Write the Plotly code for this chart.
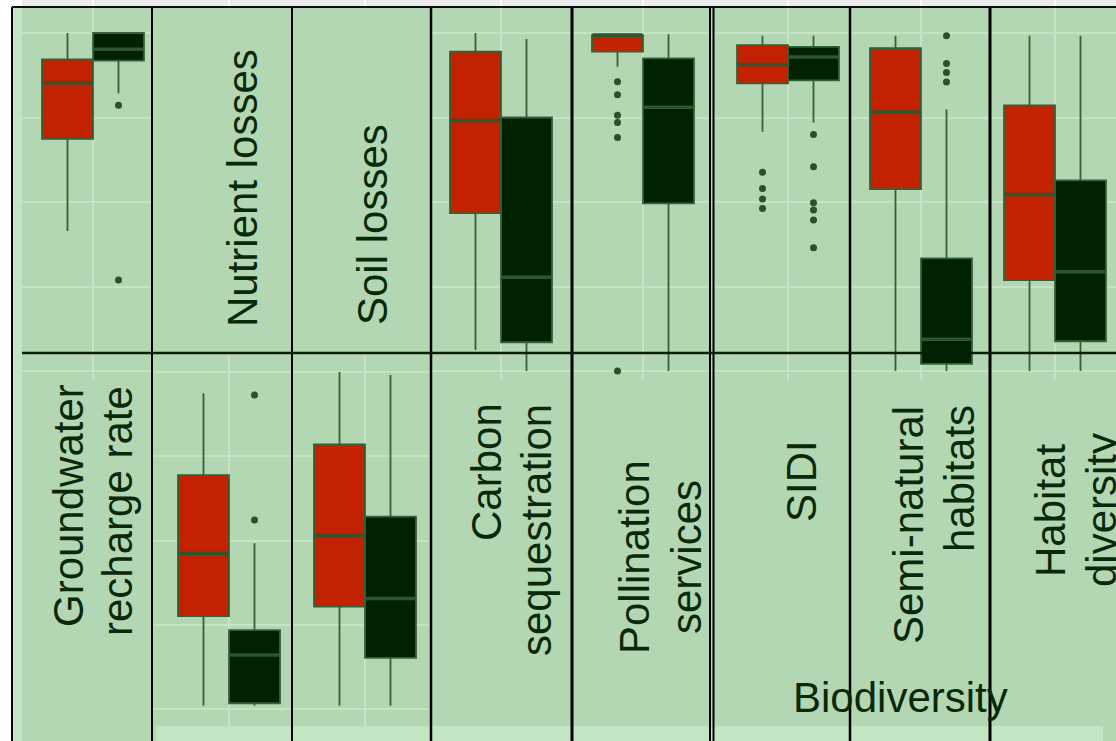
import plotly.graph_objects as go

W, H = 1116, 741

# ---------------- data (normalised values) ----------------
categories = ["Groundwater recharge rate", "Nutrient losses", "Soil losses",
              "Carbon sequestration", "Pollination services", "SIDI",
              "Semi-natural habitats", "Habitat diversity"]
groups = ["A", "B"]

red_low = [0.414, 0.010, 0.010, 0.062, 0.900, 0.708, 0.000, 0.000]
red_q1 = [0.687, 0.276, 0.304, 0.467, 0.945, 0.851, 0.538, 0.269]
red_med = [0.853, 0.462, 0.516, 0.741, 0.994, 0.907, 0.766, 0.522]
red_q3 = [0.922, 0.694, 0.785, 0.945, 0.994, 0.964, 0.955, 0.786]
red_high = [1.000, 0.937, 1.000, 1.000, 0.994, 0.992, 0.992, 0.992]
red_out = [[], [], [], [], [0.856, 0.817, 0.757, 0.735, 0.691, 0.0],
           [0.588, 0.540, 0.509, 0.481], [], []]

dark_low = [0.822, 0.010, 0.010, 0.000, 0.000, 0.735, 0.000, 0.000]
dark_q1 = [0.918, 0.017, 0.152, 0.085, 0.496, 0.860, 0.021, 0.088]
dark_med = [0.952, 0.160, 0.328, 0.277, 0.780, 0.929, 0.094, 0.294]
dark_q3 = [1.000, 0.234, 0.571, 0.750, 0.925, 0.959, 0.333, 0.564]
dark_high = [1.000, 0.492, 0.991, 0.982, 0.996, 0.992, 0.774, 0.992]
dark_out = [[0.786, 0.269], [0.932, 0.561], [], [], [],
            [0.700, 0.604, 0.498, 0.476, 0.447, 0.365],
            [0.992, 0.910, 0.883, 0.855], []]

y_ticks = [0, 0.25, 0.5, 0.75, 1.0]
group_mid = [0.5]

# ---------------- layout geometry (pixels) ----------------
box_row = ["top", "bottom", "bottom", "top", "top", "top", "top", "top"]
col_left = [22, 152, 292, 431, 572, 712, 850, 990]
col_right = [152, 292, 431, 572, 712, 850, 990, 1116]
col_center = [93, 229, 365, 501, 643, 788, 921, 1055]
px_per_unit = 51
top_dom = (7, 380)      # pixel rows of the upper band
bot_dom = (352, 741)    # pixel rows of the lower band
top_map = (371, 338)    # y pixel of value 0, pixels per unit
bot_map = (709, 337)

RED = "#c22200"
DARK = "#002200"
LINE = "#33613a"
MED = "#2c5530"
PANEL = "#b3d7b3"
LIGHT = "#c3e5c3"
GRID = "#c6e3c6"
TXT = "#0a290a"
FONT = "Liberation Sans, Arial, sans-serif"


def fx(p):
    return p / W


def fy(p):
    return 1 - p / H


fig = go.Figure()


def ax_id(n):
    return "" if n == 1 else str(n)


# axes: bottom row n=1..8, top row n=9..16
for row, (dom, mp, base) in {"bottom": (bot_dom, bot_map, 1), "top": (top_dom, top_map, 9)}.items():
    for k in range(8):
        n = base + k
        L, R, c = col_left[k], col_right[k], col_center[k]
        xr = [0.5 - (c - L) / px_per_unit, 0.5 + (R - c) / px_per_unit]
        yr = [(mp[0] - dom[1]) / mp[1], (mp[0] - dom[0]) / mp[1]]
        fig.layout["xaxis" + ax_id(n)] = dict(
            domain=[fx(L), fx(R)], range=xr, anchor="y" + ax_id(n),
            tickvals=group_mid, showticklabels=False, ticks="", showline=False,
            zeroline=False, showgrid=True, gridcolor=GRID, gridwidth=1.5, fixedrange=True)
        fig.layout["yaxis" + ax_id(n)] = dict(
            domain=[fy(dom[1]), fy(dom[0])], range=yr, anchor="x" + ax_id(n),
            tickvals=y_ticks, showticklabels=False, ticks="", showline=False,
            zeroline=False, showgrid=True, gridcolor=GRID, gridwidth=1.5, fixedrange=True)

for j, cat in enumerate(categories):
    n = (j + 1) if box_row[j] == "bottom" else (j + 9)
    xa, ya = "x" + ax_id(n), "y" + ax_id(n)
    for gi, (fill, lo, q1, md, q3, hi, outs) in enumerate([
            (RED, red_low, red_q1, red_med, red_q3, red_high, red_out),
            (DARK, dark_low, dark_q1, dark_med, dark_q3, dark_high, dark_out)]):
        fig.add_trace(go.Box(
            x=[gi], q1=[q1[j]], median=[md[j]], q3=[q3[j]],
            lowerfence=[lo[j]], upperfence=[hi[j]], width=1, orientation="v",
            whiskerwidth=0,
            fillcolor=fill, line=dict(color=LINE, width=1.8), boxpoints=False,
            name=f"{cat} {groups[gi]}", showlegend=False, hoverinfo="skip",
            xaxis=xa, yaxis=ya))
        # thicker median bar (as in the source)
        fig.add_trace(go.Scatter(
            x=[gi - 0.49, gi + 0.49], y=[md[j], md[j]], mode="lines",
            line=dict(color=MED, width=3.5), showlegend=False, hoverinfo="skip",
            xaxis=xa, yaxis=ya))
        if outs[j]:
            fig.add_trace(go.Scatter(
                x=[gi] * len(outs[j]), y=outs[j], mode="markers",
                marker=dict(color="#2c4f2c", size=7), showlegend=False,
                hoverinfo="skip", cliponaxis=True, xaxis=xa, yaxis=ya))

shapes = [
    dict(type="rect", layer="below", xref="paper", yref="paper", x0=fx(22), x1=fx(1116),
         y0=fy(7), y1=fy(0), fillcolor="#ebebeb", line=dict(width=0)),
    dict(type="rect", layer="below", xref="paper", yref="paper", x0=fx(12), x1=fx(1116),
         y0=fy(741), y1=fy(7), fillcolor=PANEL, line=dict(width=0)),
    dict(type="rect", layer="above", xref="paper", yref="paper", x0=fx(12), x1=fx(22),
         y0=fy(741), y1=fy(7), fillcolor=LIGHT, line=dict(width=0)),
    dict(type="rect", layer="above", xref="paper", yref="paper", x0=fx(156), x1=fx(1103),
         y0=fy(741), y1=fy(726), fillcolor=LIGHT, line=dict(width=0)),
]
for c in col_center:
    shapes.append(dict(type="line", layer="above", xref="paper", yref="paper",
                       x0=fx(c), x1=fx(c), y0=fy(7), y1=fy(0),
                       line=dict(color="white", width=1.5)))
for xv, wd in [(12, 2), (152, 2), (292, 2), (431, 2.5), (572, 3), (710, 2), (713.5, 2),
               (850, 2.5), (990, 3)]:
    shapes.append(dict(type="line", layer="above", xref="paper", yref="paper",
                       x0=fx(xv), x1=fx(xv), y0=fy(741), y1=fy(7),
                       line=dict(color="#000000", width=wd)))
shapes.append(dict(type="line", layer="above", xref="paper", yref="paper",
                   x0=fx(12), x1=fx(1116), y0=fy(7), y1=fy(7),
                   line=dict(color="#111111", width=2)))
shapes.append(dict(type="line", layer="above", xref="paper", yref="paper",
                   x0=fx(22), x1=fx(1116), y0=fy(353), y1=fy(353),
                   line=dict(color="#0a1f0a", width=2.5)))

# label text (one annotation per printed line)
label_lines = ["Groundwater", "recharge rate", "Nutrient losses", "Soil losses", "Carbon",
               "sequestration", "Pollination", "services", "SIDI", "Semi-natural",
               "habitats", "Habitat", "diversity"]
label_pos = [(68, 506), (118, 511), (243, 188), (373, 225), (486, 472), (536, 530),
             (634, 557), (686, 557), (801, 481), (908, 525), (959, 479), (1051, 511),
             (1102, 510)]
ann = []
for t, (px, py) in zip(label_lines, label_pos):
    ann.append(dict(text=t, x=fx(px), y=fy(py), xref="paper", yref="paper",
                    xanchor="center", yanchor="middle", textangle=-90, showarrow=False,
                    font=dict(family=FONT, size=42, color=TXT)))
ann.append(dict(text="Biodiversity", x=fx(900), y=fy(697), xref="paper", yref="paper",
                xanchor="center", yanchor="middle", showarrow=False,
                font=dict(family=FONT, size=42, color=TXT)))

fig.update_layout(
    width=W, height=H, margin=dict(l=0, r=0, t=0, b=0, pad=0),
    paper_bgcolor="white", plot_bgcolor="rgba(0,0,0,0)",
    shapes=shapes, annotations=ann, showlegend=False,
)

fig.write_html("out.html", config={"displayModeBar": False},
               post_script="document.body.style.margin='0';")
